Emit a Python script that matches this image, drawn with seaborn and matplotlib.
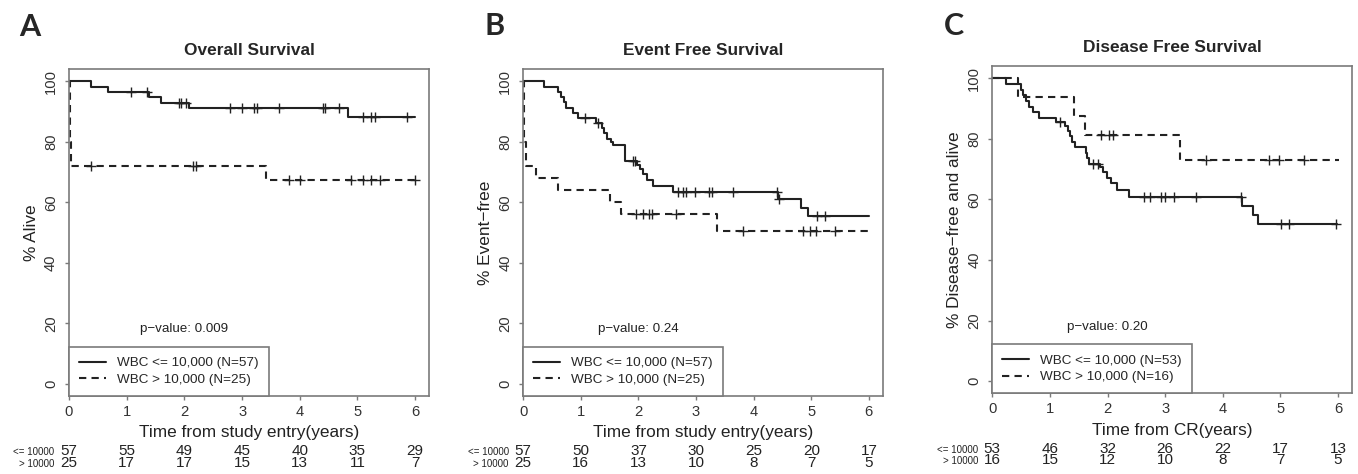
import numpy as np
import pandas as pd
import matplotlib
matplotlib.use("Agg")
import matplotlib.pyplot as plt
import seaborn as sns
from matplotlib.lines import Line2D

# ---- Panel A: overall survival ----
a_low_t = [0, 0.385, 0.67, 1.38, 1.59, 2.08, 4.83, 6.0]
a_low_s = [100, 98.2, 96.5, 94.7, 92.9, 91.1, 88.3, 88.3]
a_low_cens = [1.07, 1.35, 1.91, 1.95, 2.03, 2.79, 3.0, 3.21, 3.26, 3.64,
              4.40, 4.44, 4.68, 5.10, 5.23, 5.30, 5.86]
a_high_t = [0, 0.01, 0.04, 3.42, 6.0]
a_high_s = [100, 80, 72, 67.2, 67.2]
a_high_cens = [0.385, 2.15, 2.21, 3.82, 4.0, 4.89, 5.09, 5.23, 5.39, 5.99]
a_risk_low = [57, 55, 49, 45, 40, 35, 29]
a_risk_high = [25, 17, 17, 15, 13, 11, 7]

# ---- Panel B: event free survival ----
b_low_t = [0, 0.36, 0.60, 0.65, 0.70, 0.74, 0.86, 0.95, 1.27, 1.36, 1.40, 1.46,
           1.52, 1.56, 1.76, 1.97, 2.02, 2.08, 2.14, 2.26, 2.60, 4.42, 4.82, 4.94, 6.0]
b_low_s = [100, 98.2, 96.5, 94.7, 93.0, 91.2, 89.6, 87.7, 86.2, 84.6, 82.7, 81.0,
           79.9, 78.8, 73.7, 72.2, 71.0, 69.3, 67.4, 65.5, 63.5, 61.1, 58.2, 55.4, 55.4]
b_low_cens = [1.07, 1.30, 1.91, 1.94, 2.69, 2.78, 2.83, 2.99, 3.22, 3.28, 3.65,
              4.40, 4.44, 5.10, 5.23]
b_high_t = [0, 0.01, 0.05, 0.23, 0.60, 1.51, 1.69, 3.36, 6.0]
b_high_s = [100, 80, 72, 68, 64, 60, 56, 50.4, 50.4]
b_high_cens = [1.95, 2.08, 2.18, 2.23, 2.66, 3.81, 4.86, 4.97, 5.08, 5.42]
b_risk_low = [57, 50, 37, 30, 25, 20, 17]
b_risk_high = [25, 16, 13, 10, 8, 7, 5]

# ---- Panel C: disease free survival ----
c_low_t = [0, 0.23, 0.49, 0.53, 0.58, 0.64, 0.71, 0.81, 1.11, 1.27, 1.32, 1.35,
           1.38, 1.44, 1.62, 1.65, 1.68, 1.87, 1.93, 1.99, 2.06, 2.16, 2.38,
           4.34, 4.53, 4.62, 5.98]
c_low_s = [100, 98.1, 96.2, 94.3, 92.5, 90.6, 88.7, 86.8, 85.5, 84.2, 82.5, 80.9,
           78.9, 77.3, 75.4, 73.7, 71.8, 70.7, 69.1, 67.1, 65.3, 63.1, 60.9,
           57.9, 54.8, 51.8, 51.8]
c_low_cens = [1.17, 1.75, 1.84, 2.64, 2.74, 2.92, 3.00, 3.15, 3.54, 4.31,
              5.02, 5.15, 5.96]
c_high_t = [0, 0.45, 1.41, 1.61, 3.25, 6.02]
c_high_s = [100, 93.75, 87.5, 81.25, 73.1, 73.1]
c_high_cens = [1.89, 2.03, 2.09, 3.71, 4.80, 4.98, 5.41]
c_risk_low = [53, 46, 32, 26, 22, 17, 13]
c_risk_high = [16, 15, 12, 10, 8, 7, 5]

risk_times = [0, 1, 2, 3, 4, 5, 6]

sns.set_style("ticks")
plt.rcParams['font.family'] = ['Liberation Sans', 'DejaVu Sans']

INK = '#222222'
FRAME = '#7a7a7a'

fig = plt.figure(figsize=(13.58, 4.74), dpi=100)


def step_value(t, s, c):
    # survival level of a step curve at the censoring times
    t = np.asarray(t)
    s = np.asarray(s)
    idx = np.searchsorted(t, c, side='right') - 1
    return s[idx]


def km_panel(rect, letter, letter_xy, title, xlabel, ylabel, pval,
             low, high, n_low, n_high, risk_low, risk_high):
    ax = fig.add_axes(rect)
    lt, ls, lc = low
    ht, hs, hc = high
    curves = pd.concat([
        pd.DataFrame({'time': lt, 'surv': ls, 'group': 'low'}),
        pd.DataFrame({'time': ht, 'surv': hs, 'group': 'high'}),
    ])
    sns.lineplot(data=curves, x='time', y='surv', style='group',
                 dashes={'low': '', 'high': (3.5, 2.5)}, color=INK,
                 drawstyle='steps-post', estimator=None, sort=False,
                 legend=False, linewidth=1.5, ax=ax)
    cens = pd.concat([
        pd.DataFrame({'time': lc, 'surv': step_value(lt, ls, lc)}),
        pd.DataFrame({'time': hc, 'surv': step_value(ht, hs, hc)}),
    ])
    sns.scatterplot(data=cens, x='time', y='surv', marker='+', s=50,
                    color=INK, linewidth=1.0, legend=False, ax=ax)

    ax.set_xlim(0, 6.24)
    ax.set_ylim(-4, 104)
    ax.set_xticks(risk_times)
    ax.set_yticks([0, 20, 40, 60, 80, 100])
    for sp in ax.spines.values():
        sp.set_visible(True)
        sp.set_color(FRAME)
        sp.set_linewidth(1.2)
    ax.tick_params(direction='out', length=3, width=1, color=FRAME,
                   labelcolor='#333333', labelsize=10.6, pad=3.5)
    ax.tick_params(axis='y', labelrotation=90, pad=5)
    for lab in ax.get_yticklabels():
        lab.set_va('center')
    ax.set_xlabel(xlabel, fontsize=12.4, labelpad=4.5, color='#222222')
    ax.set_ylabel(ylabel, fontsize=12.4, labelpad=3.5, color='#222222')
    ax.set_title(title, fontsize=12.4, fontweight='bold', pad=10)

    ax.text(2.0, 18, pval, ha='center', va='center', fontsize=9.6,
            color='#222222')

    handles = [Line2D([], [], color=INK, lw=1.5),
               Line2D([], [], color=INK, lw=1.5, linestyle=(0, (3.5, 2.5)))]
    leg = ax.legend(handles,
                    ['WBC <= 10,000 (N=%d)' % n_low,
                     'WBC > 10,000 (N=%d)' % n_high],
                    loc='lower left', borderaxespad=0, fancybox=False,
                    framealpha=1, edgecolor=FRAME, fontsize=9.7,
                    handlelength=2.0, handletextpad=0.8, borderpad=0.75,
                    labelspacing=0.3)
    leg.get_frame().set_linewidth(1.2)

    # numbers at risk under the axis
    xt = ax.get_xaxis_transform()
    for t, n1, n2 in zip(risk_times, risk_low, risk_high):
        ax.text(t, -0.181, str(n1), transform=xt, ha='center', va='baseline',
                fontsize=11, color='#222222')
        ax.text(t, -0.217, str(n2), transform=xt, ha='center', va='baseline',
                fontsize=11, color='#222222')
    ax.text(-0.04, -0.181, '<= 10000', transform=ax.transAxes, ha='right',
            va='baseline', fontsize=7, color='#222222')
    ax.text(-0.04, -0.217, '> 10000', transform=ax.transAxes, ha='right',
            va='baseline', fontsize=7, color='#222222')

    fig.text(letter_xy[0], letter_xy[1], letter, fontsize=22,
             fontweight='bold', family='Lato', ha='left', va='baseline')
    return ax


km_panel([0.0508, 0.1646, 0.2651, 0.6899], 'A', (0.014, 0.924),
         'Overall Survival', 'Time from study entry(years)', '% Alive',
         'p\u2212value: 0.009',
         (a_low_t, a_low_s, a_low_cens), (a_high_t, a_high_s, a_high_cens),
         57, 25, a_risk_low, a_risk_high)
km_panel([0.3853, 0.1646, 0.2647, 0.6899], 'B', (0.357, 0.926),
         'Event Free Survival', 'Time from study entry(years)',
         '% Event\u2212free', 'p\u2212value: 0.24',
         (b_low_t, b_low_s, b_low_cens), (b_high_t, b_high_s, b_high_cens),
         57, 25, b_risk_low, b_risk_high)
km_panel([0.7307, 0.1702, 0.2647, 0.6906], 'C', (0.695, 0.926),
         'Disease Free Survival', 'Time from CR(years)',
         '% Disease\u2212free and alive', 'p\u2212value: 0.20',
         (c_low_t, c_low_s, c_low_cens), (c_high_t, c_high_s, c_high_cens),
         53, 16, c_risk_low, c_risk_high)

fig.savefig('out.png', dpi=100)
